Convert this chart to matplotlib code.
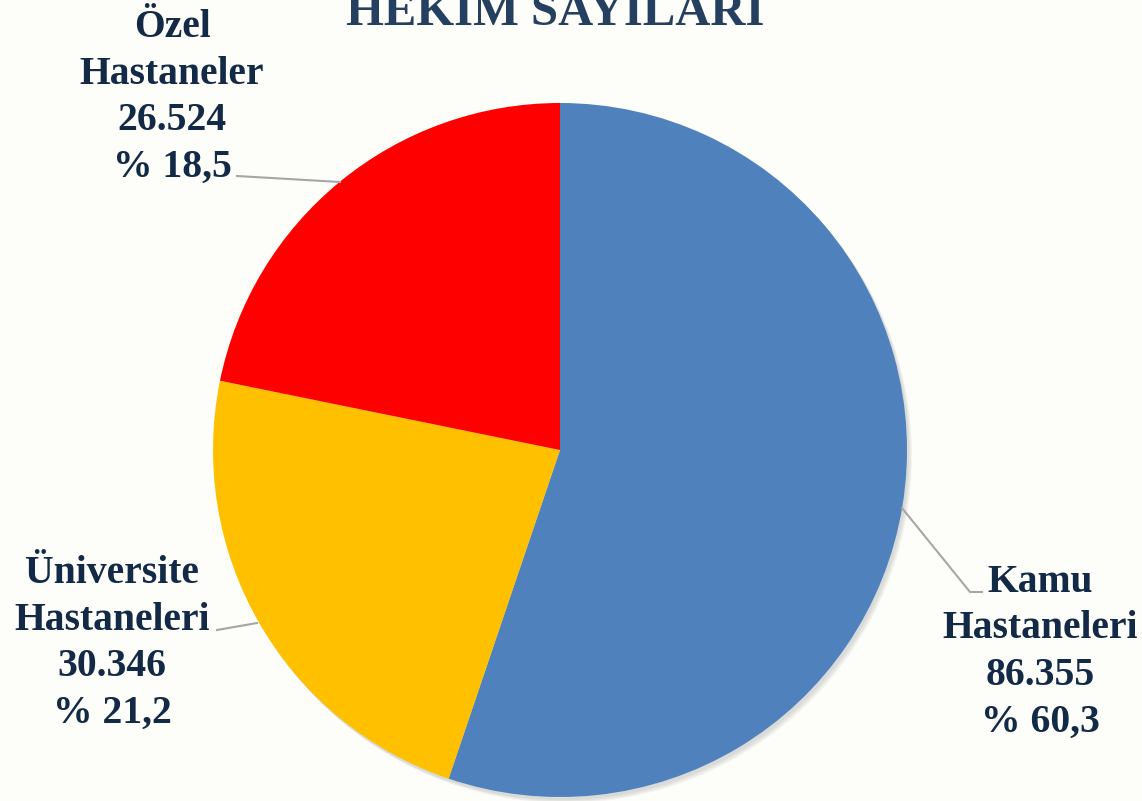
import matplotlib
matplotlib.use("Agg")
import matplotlib.pyplot as plt
from matplotlib.patches import Circle

# ---- data ----
title = "HEKİM SAYILARI"
categories = [["Kamu", "Hastaneleri"], ["Üniversite", "Hastaneleri"], ["Özel", "Hastaneler"]]
counts = [86355, 30346, 26524]
# slice sizes as they are drawn in the reference (share of the circle, %)
drawn_share = [55.2, 23.0, 21.8]
colors = ["#4F81BD", "#FFC000", "#FF0000"]

W, H = 1142, 801
BG = "#FDFDFA"
TXT = "#132A47"

def fmt_count(v):
    return f"{v:,}".replace(",", ".")

def fmt_pct(v, total):
    return "% " + f"{100 * v / total:.1f}".replace(".", ",")

fig = plt.figure(figsize=(W / 100, H / 100), dpi=100, facecolor=BG)
ax = fig.add_axes([0, 0, 1, 1])
ax.set_facecolor(BG)

cx, cy, r = 560, H - 450, 347

# soft shadow behind the pie
for k, a in enumerate([0.05, 0.05, 0.05, 0.06]):
    ax.add_patch(Circle((cx + 2 + k, cy - 3 - k), r, color="#555555", alpha=a, lw=0, zorder=0))

ax.pie(drawn_share, colors=colors, startangle=90, counterclock=False,
       center=(cx, cy), radius=r, wedgeprops=dict(linewidth=0, zorder=1))

ax.set_xlim(0, W)
ax.set_ylim(0, H)
ax.set_aspect("equal")
ax.axis("off")

# leader lines (pixel coords from top)
leaders = [
    [(902, 508), (970, 592), (982, 592)],
    [(257, 623), (217, 630)],
    [(340, 182), (237, 176)],
]
for pts in leaders:
    ax.plot([p[0] for p in pts], [H - p[1] for p in pts], color="#A6A6A6", lw=1.5, zorder=2)

# labels: center x and first baseline (pixels from top)
label_pos = [(1040, 592), (112, 583), (172, 37)]
total = sum(counts)
font = dict(family="Liberation Serif", weight="bold", size=28.5, color=TXT)
for name, cnt, (lx, ly) in zip(categories, counts, label_pos):
    lines = name + [fmt_count(cnt), fmt_pct(cnt, total)]
    for i, line in enumerate(lines):
        ax.text(lx, H - (ly + i * 46.5), line, ha="center", va="baseline", **font)

ax.text(555, H - 25, title, ha="center", va="baseline", family="Liberation Serif",
        weight="bold", size=35, color="#243F60")

fig.savefig("out.png", dpi=100, facecolor=BG)
